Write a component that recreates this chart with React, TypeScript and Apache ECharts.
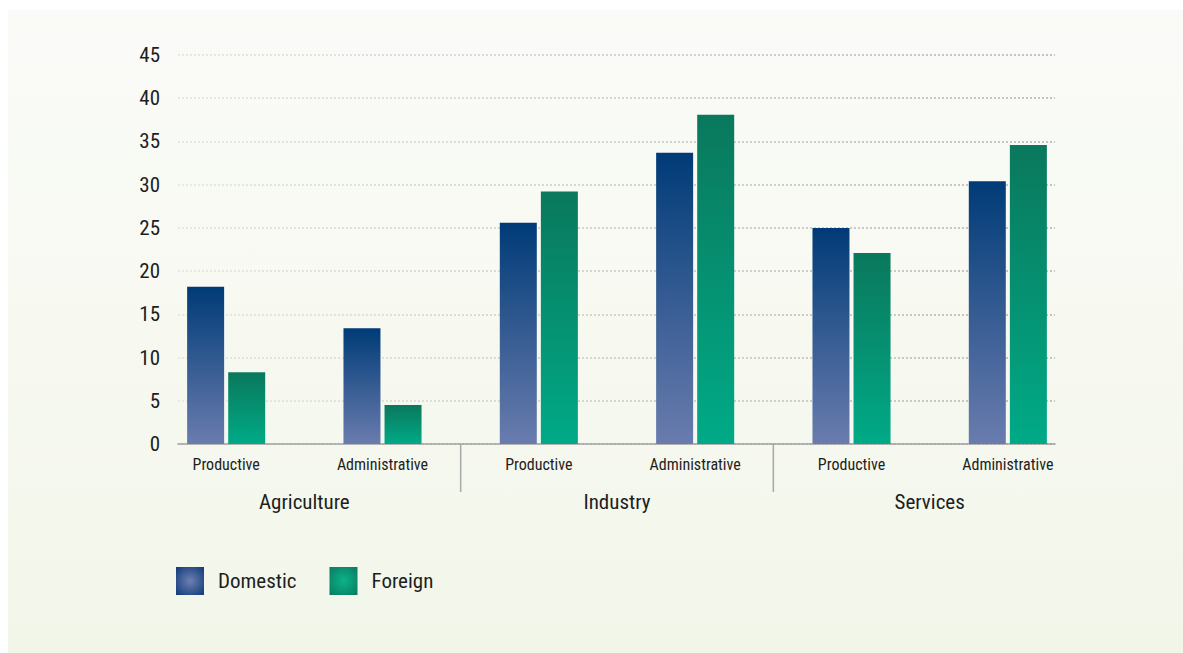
import React, { useEffect, useRef } from "react";
import * as echarts from "echarts";

const subCategories = ["Productive", "Administrative", "Productive", "Administrative", "Productive", "Administrative"];
const groups = ["Agriculture", "Industry", "Services"];
const domestic = [18.2, 13.4, 25.6, 33.7, 25.0, 30.4];
const foreign = [8.3, 4.5, 29.2, 38.1, 22.1, 34.6];
const yMin = 0;
const yMax = 45;
const yStep = 5;

const FONT = "'Liberation Sans Narrow', 'Roboto Condensed', 'DejaVu Sans Condensed', sans-serif";

export default function App() {
  const ref = useRef<HTMLDivElement>(null);
  useEffect(() => {
    if (!ref.current) return;
    const chart = echarts.init(ref.current, undefined, { renderer: "svg" });
    const grid0 = { left: 140, right: 97, top: 45, height: 389 };
    const domGrad = new echarts.graphic.LinearGradient(0, 0, 0, 1, [
      { offset: 0, color: "#003b77" },
      { offset: 1, color: "#6a7cae" },
    ]);
    const forGrad = new echarts.graphic.LinearGradient(0, 0, 0, 1, [
      { offset: 0, color: "#0a785c" },
      { offset: 1, color: "#00aa87" },
    ]);
    const gridLineGrad = new echarts.graphic.LinearGradient(
      170, 0, 1047, 0,
      [
        { offset: 0, color: "#e6eadb" },
        { offset: 1, color: "#c2c2c0" },
      ],
      true
    );
    chart.setOption({
      animation: false,
      textStyle: { fontFamily: FONT },
      grid: [
        { ...grid0 },
        { left: 170, width: 877, top: 45, height: 389 },
        { ...grid0 },
      ],
      xAxis: [
        {
          gridIndex: 0,
          type: "category",
          data: subCategories,
          axisLine: { show: false },
          axisTick: { show: false },
          axisLabel: { interval: 0, margin: 12, fontSize: 16, color: "#1e1e1e", fontFamily: FONT },
        },
        {
          gridIndex: 1,
          type: "value",
          min: 0,
          max: 1,
          axisLine: { show: true, lineStyle: { color: "#a0a0a0", width: 1.5 } },
          axisTick: { show: false },
          axisLabel: { show: false },
          splitLine: { show: false },
        },
        {
          gridIndex: 2,
          type: "category",
          data: groups,
          axisLine: { show: false },
          axisTick: { show: false },
          axisLabel: { interval: 0, margin: 47, fontSize: 21, color: "#1e1e1e", fontFamily: FONT },
        },
      ],
      yAxis: [
        { gridIndex: 0, type: "value", min: yMin, max: yMax, interval: yStep, show: false, splitLine: { show: false } },
        {
          gridIndex: 1,
          type: "value",
          min: yMin,
          max: yMax,
          interval: yStep,
          axisLine: { show: false },
          axisTick: { show: false },
          axisLabel: { margin: 18, fontSize: 21, color: "#1e1e1e", fontFamily: FONT },
          splitLine: { show: true, lineStyle: { color: gridLineGrad, width: 2, type: [2, 2] } },
        },
        { gridIndex: 2, type: "value", min: yMin, max: yMax, show: false, splitLine: { show: false } },
      ],
      legend: {
        left: 168,
        top: 557,
        padding: 0,
        itemWidth: 28,
        itemHeight: 28,
        itemGap: 33,
        icon: "rect",
        textStyle: { fontSize: 21, color: "#1e1e1e", fontFamily: FONT, padding: [0, 0, 0, 9] },
        data: [
          {
            name: "Domestic",
            itemStyle: {
              color: new echarts.graphic.RadialGradient(0.5, 0.5, 0.7, [
                { offset: 0, color: "#6e80b2" },
                { offset: 1, color: "#0e3a78" },
              ]),
            },
          },
          {
            name: "Foreign",
            itemStyle: {
              color: new echarts.graphic.RadialGradient(0.5, 0.5, 0.7, [
                { offset: 0, color: "#0db28b" },
                { offset: 1, color: "#067c5e" },
              ]),
            },
          },
        ],
      },
      series: [
        {
          name: "Domestic",
          type: "bar",
          xAxisIndex: 0,
          yAxisIndex: 0,
          data: domestic,
          barWidth: 37,
          barGap: "11%",
          itemStyle: { color: domGrad },
        },
        {
          name: "Foreign",
          type: "bar",
          xAxisIndex: 0,
          yAxisIndex: 0,
          data: foreign,
          barWidth: 37,
          barGap: "11%",
          itemStyle: { color: forGrad },
        },
      ],
    });

    // group dividers between category pairs
    const yBase = chart.convertToPixel({ yAxisIndex: 0 }, 0) as number;
    const lines: any[] = [];
    [1, 3].forEach((i) => {
      const a = chart.convertToPixel({ xAxisIndex: 0 }, i) as number;
      const b = chart.convertToPixel({ xAxisIndex: 0 }, i + 1) as number;
      const x = (a + b) / 2;
      lines.push({
        type: "line",
        shape: { x1: x, y1: yBase, x2: x, y2: yBase + 48 },
        style: { stroke: "#a8a8a8", lineWidth: 1.5 },
        silent: true,
      });
    });
    chart.setOption({ graphic: lines });

    return () => chart.dispose();
  }, []);

  return (
    <div
      ref={ref}
      style={{
        position: "absolute",
        left: 8,
        top: 10,
        width: 1175,
        height: 643,
        background: "linear-gradient(to bottom, #fafbf8 0%, #f7f9f1 50%, #f2f6e9 100%)",
      }}
    />
  );
}
